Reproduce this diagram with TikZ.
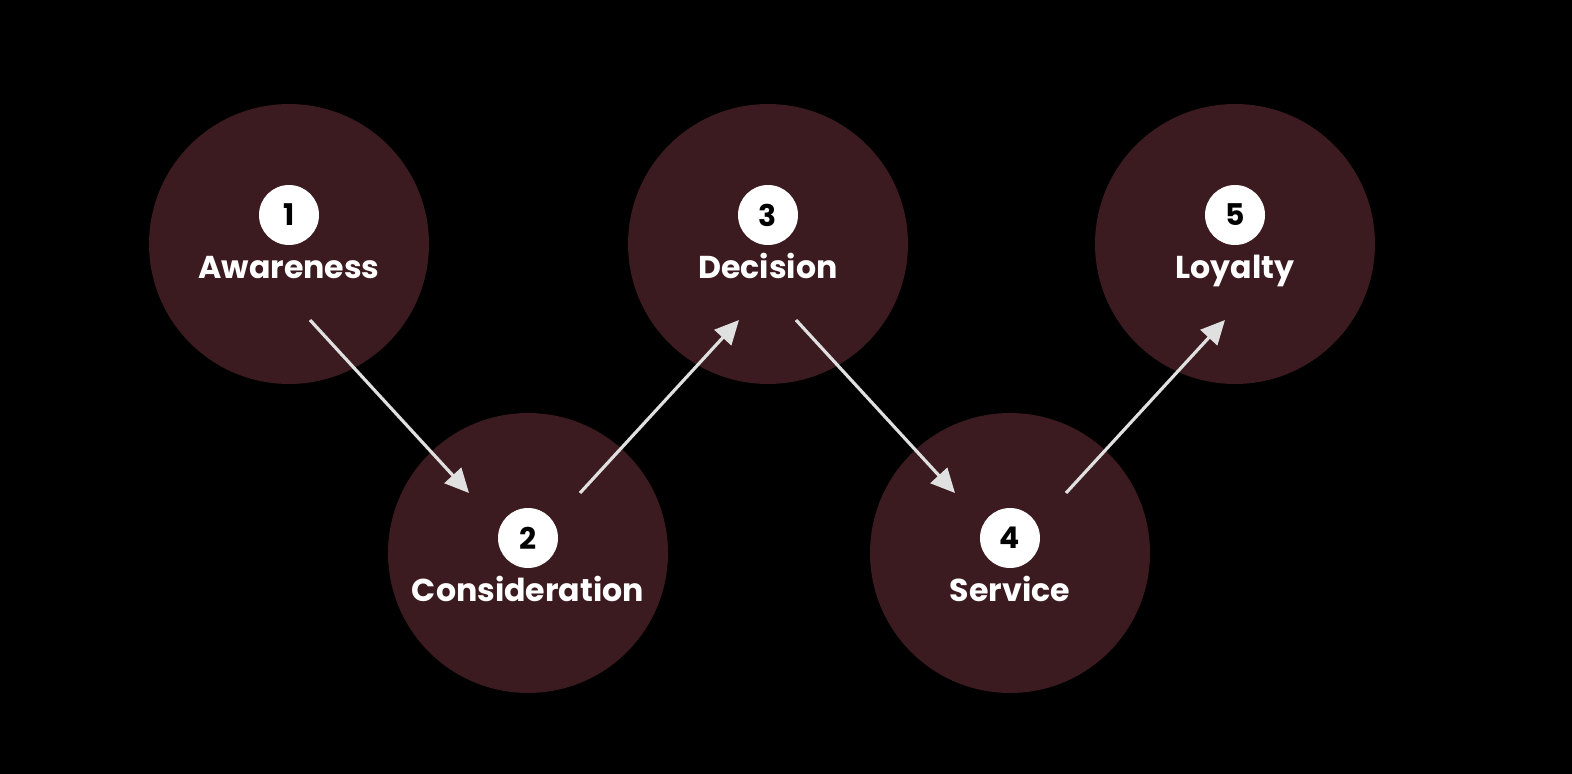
\documentclass[tikz,border=0pt]{standalone}
\usepackage{fontspec}
\setmainfont{Poppins}
\usetikzlibrary{arrows.meta}
\definecolor{mmaroon}{RGB}{59, 27, 32}
\definecolor{mgrey}{RGB}{224, 224, 224}
\tikzset{stage/.style = {fill=mmaroon, circle, inner sep = 0, minimum size = 5.6cm}}
\tikzset{badge/.style = {fill=white, circle, inner sep = 0, minimum size = 1.2cm,
                         text=black, font=\bfseries\fontsize{17}{17}\selectfont}}
\tikzset{lbl/.style = {text=white, anchor=base, inner sep = 0,
                       font=\bfseries\fontsize{18}{18}\selectfont}}
\tikzset{flow/.style = {draw=mgrey, line width=1.8pt,
                        -{Triangle[length=0.48cm, width=0.45cm]}}}

\begin{document}
\begin{tikzpicture}[x=0.02cm, y=-0.02cm]
    \fill [black] (0, 0) rectangle (1572, 774);
    \useasboundingbox (0, 0) rectangle (1572, 774);

    \node [stage] (aw) at (289, 244) {};
    \node [stage] (co) at (528, 553) {};
    \node [stage] (de) at (768, 244) {};
    \node [stage] (se) at (1010, 553) {};
    \node [stage] (lo) at (1235, 244) {};

    \node [badge] (aw-n) at (289, 215) {1};
    \node [badge] (co-n) at (528, 538) {2};
    \node [badge] (de-n) at (768, 215) {3};
    \node [badge] (se-n) at (1010, 538) {4};
    \node [badge] (lo-n) at (1235, 215) {5};

    \node [lbl] (aw-t) at (289, 278) {Awareness};
    \node [lbl] (co-t) at (528, 601) {Consideration};
    \node [lbl] (de-t) at (768, 278) {Decision};
    \node [lbl] (se-t) at (1010, 601) {Service};
    \node [lbl] (lo-t) at (1235, 278) {Loyalty};

    \coordinate (aw-out) at (310, 320);
    \coordinate (co-in) at (469, 493);
    \coordinate (co-out) at (580, 493);
    \coordinate (de-in) at (739, 320);
    \coordinate (de-out) at (796, 320);
    \coordinate (se-in) at (955, 493);
    \coordinate (se-out) at (1066, 493);
    \coordinate (lo-in) at (1225, 320);

    \draw [flow] (aw-out) -- (co-in);
    \draw [flow] (co-out) -- (de-in);
    \draw [flow] (de-out) -- (se-in);
    \draw [flow] (se-out) -- (lo-in);
\end{tikzpicture}
\end{document}
